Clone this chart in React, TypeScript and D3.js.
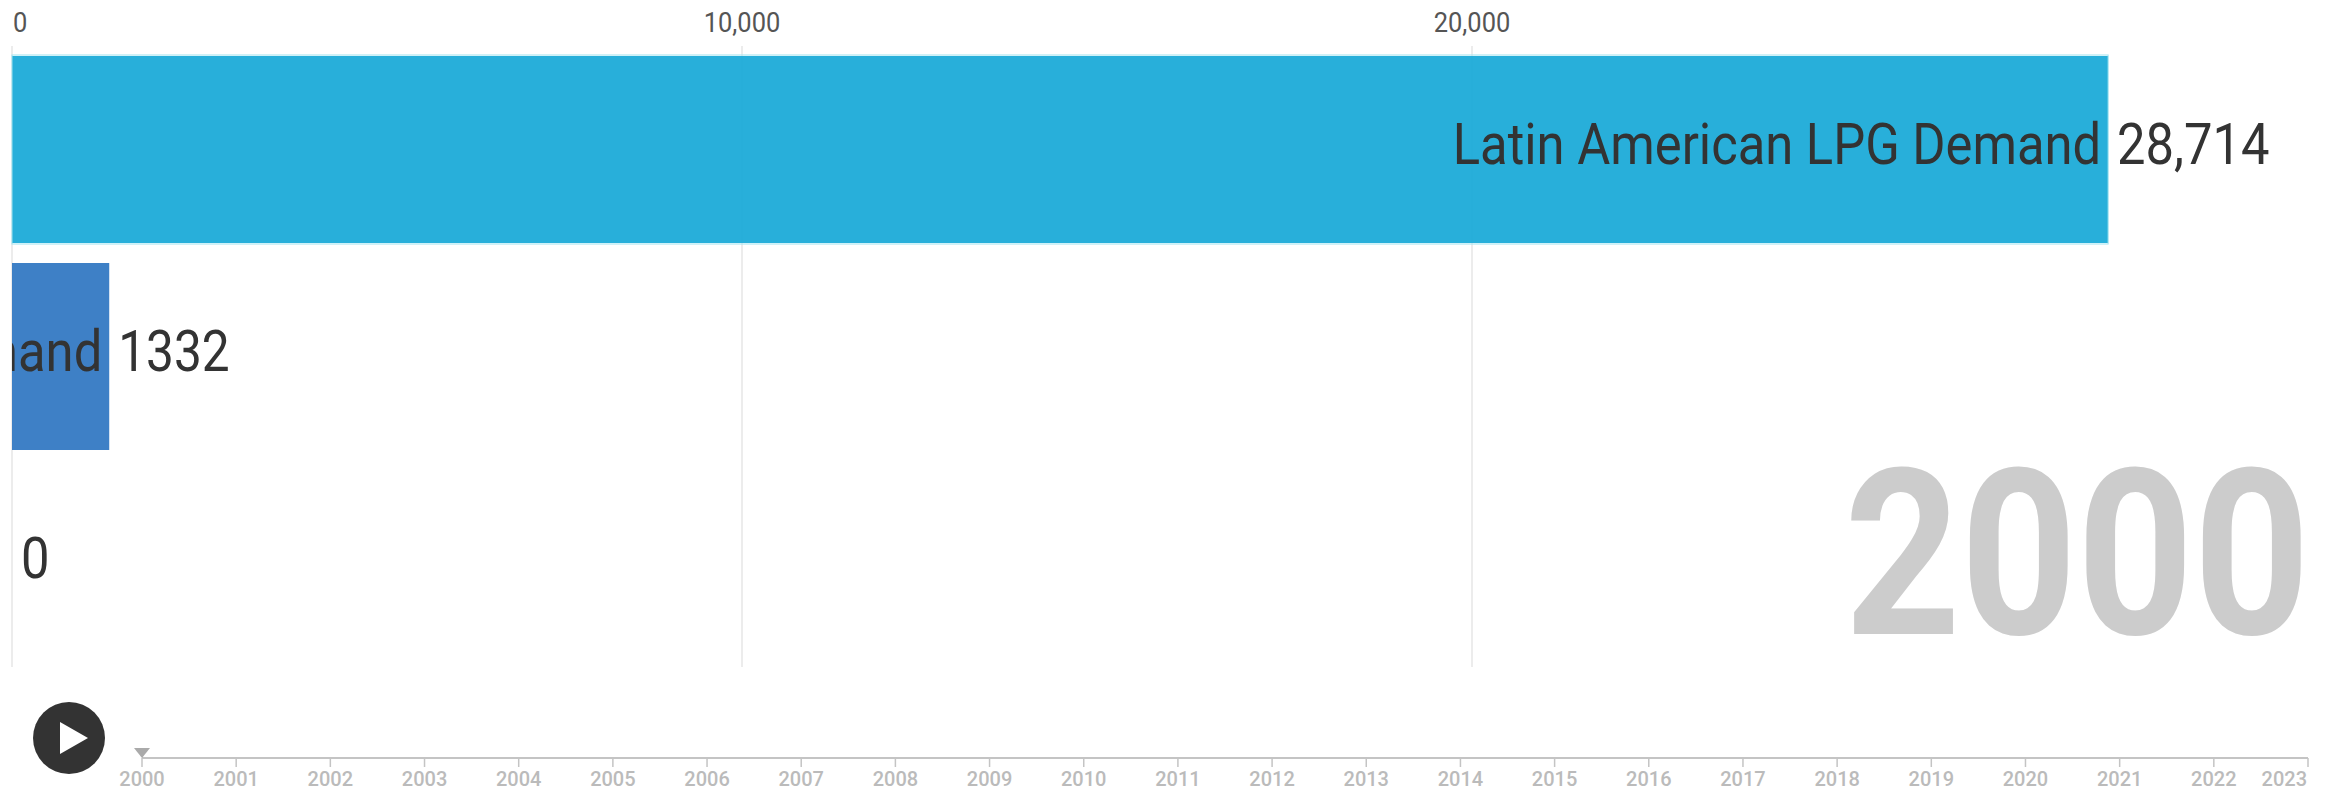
import React from "react";
import * as d3 from "d3";

const categories = ["Latin American LPG Demand", "LPG Demand", ""];
const values = [28714, 1332, 0];
const valueLabels = ["28,714", "1332", "0"];
const barColors = ["#16a8d7", "#2e75c1", "#2e75c1"];
const axisTicks = [0, 10000, 20000];
const years = d3.range(2000, 2024);
const currentYear = 2000;

const FONT = "Roboto, sans-serif";
const INK = "#333333";

const x = d3.scaleLinear().domain([0, 10000]).range([12, 742]);
const y = d3.scaleBand<number>().domain([0, 1, 2]).range([46, 667]).paddingInner(20 / 207).paddingOuter(10 / 207);
const timeline = d3.scaleLinear().domain([2000, 2023]).range([142, 2308]);
const fmt = d3.format(",");
const SX = 0.89;

function Squeezed({ x: px, y: py, k = SX, anchor = "start", size, weight = 400, fill = INK, children }: any) {
  return (
    <text
      transform={`translate(${px},${py}) scale(${k},1)`}
      textAnchor={anchor}
      fontFamily={FONT}
      fontSize={size}
      fontWeight={weight}
      fill={fill}
    >
      {children}
    </text>
  );
}

export default function App() {
  const top = y.range()[0];
  const bottom = y.range()[1];
  return (
    <svg width={2333} height={792} style={{ position: "fixed", left: 0, top: 0, background: "#fff" }}>
      <defs>
        <clipPath id="plot">
          <rect x={x(0)} y={0} width={2321} height={700} />
        </clipPath>
      </defs>

      {axisTicks.map((t) => (
        <g key={t}>
          <line x1={x(t)} x2={x(t)} y1={top} y2={bottom} stroke="#333" strokeOpacity={0.13} strokeWidth={1.5} />
          <Squeezed x={t === 0 ? x(t) + 1 : x(t)} y={32} size={28} k={0.91} anchor={t === 0 ? "start" : "middle"} fill="#555">
            {fmt(t)}
          </Squeezed>
        </g>
      ))}

      {values.map((v, i) => (
        <rect key={i} x={x(0)} y={y(i)} width={x(v) - x(0)} height={y.bandwidth()} fill={barColors[i]} fillOpacity={0.92} />
      ))}
      <rect x={x(0)} y={y(0)! - 1} width={x(values[0]) - x(0)} height={y.bandwidth() + 2} fill="none" stroke="#9fe3f0" strokeWidth={1} />

      <g clipPath="url(#plot)">
        {categories.map((c, i) => (
          <Squeezed key={i} x={x(values[i]) - 7} y={y(i)! + 108} size={57} anchor="end">
            {c}
          </Squeezed>
        ))}
      </g>
      {valueLabels.map((l, i) => (
        <Squeezed key={i} x={x(values[i]) + 9} y={y(i)! + 108} size={57} k={i === 1 ? 0.87 : SX}>
          {l}
        </Squeezed>
      ))}

      <Squeezed x={2310} y={634} k={0.875} size={232} weight={700} anchor="end" fill="#cccccc">
        {currentYear}
      </Squeezed>

      <line x1={timeline(2000)} x2={timeline(2023)} y1={758} y2={758} stroke="#c4c4c4" strokeWidth={2} />
      {years.map((yr) => (
        <g key={yr}>
          <line x1={timeline(yr)} x2={timeline(yr)} y1={758} y2={767} stroke="#c4c4c4" strokeWidth={1.5} />
          <text
            x={yr === 2023 ? timeline(yr) - 1 : timeline(yr)}
            y={786}
            textAnchor={yr === 2023 ? "end" : "middle"}
            fontFamily={FONT}
            fontSize={20}
            fontWeight={500}
            fill="#bbbbbb"
          >
            {yr}
          </text>
        </g>
      ))}
      <path
        d={`M${timeline(currentYear) - 8},748 L${timeline(currentYear) + 8},748 L${timeline(currentYear)},758 Z`}
        fill="#aaaaaa"
      />

      <circle cx={69} cy={738} r={36} fill="#333333" />
      <path d="M60,722 L88,738 L60,754 Z" fill="#ffffff" />
    </svg>
  );
}
